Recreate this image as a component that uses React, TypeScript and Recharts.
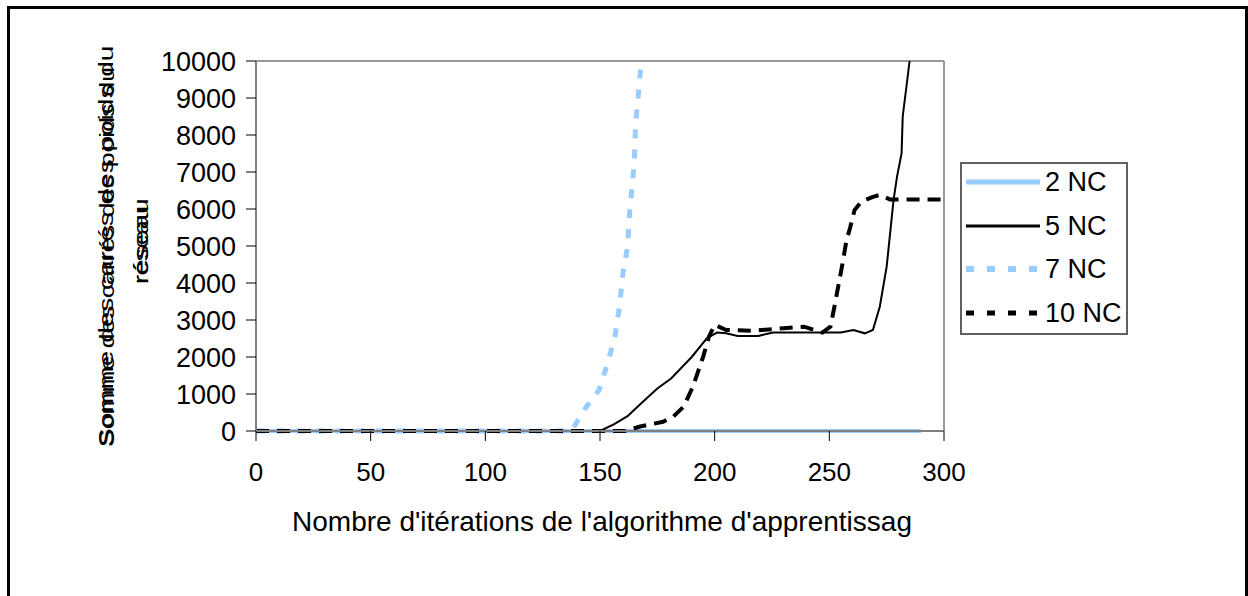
import React from 'react';
import { LineChart, Line, XAxis, YAxis, ReferenceLine } from 'recharts';

const FONT = '"Liberation Sans", Arial, sans-serif';

// axis ticks
const xTicks = [0, 50, 100, 150, 200, 250, 300];
const yTicks = [0, 1000, 2000, 3000, 4000, 5000, 6000, 7000, 8000, 9000, 10000];

// 2 NC
const nc2Iter = [0, 50, 100, 150, 200, 250, 290];
const nc2Vals = [0, 0, 0, 0, 0, 0, 0];

// 5 NC
const nc5Iter = [0, 50, 100, 150, 156, 162, 168, 175, 181, 190, 196.5, 201, 205, 210, 219, 225.5, 235, 245, 255, 260.5, 265.5, 269, 272, 275, 278, 279.5, 281.5, 282, 285];
const nc5Vals = [0, 0, 0, 0, 180, 400, 750, 1150, 1420, 2000, 2500, 2660, 2640, 2570, 2570, 2660, 2660, 2660, 2660, 2730, 2640, 2730, 3360, 4440, 6240, 6870, 7500, 8500, 10000];

// 7 NC
const nc7Iter = [0, 50, 100, 137.5, 144, 149.5, 153.5, 156.5, 158.5, 160, 162, 163, 164, 165, 165.5, 166.5, 168];
const nc7Vals = [0, 0, 0, 0, 650, 1100, 1870, 2550, 3360, 4260, 4980, 5970, 6600, 7320, 8300, 8950, 10000];

// 10 NC
const nc10Iter = [0, 50, 100, 150, 161, 167.5, 172, 177.5, 182, 186.5, 190.5, 195, 197.5, 200, 205, 217, 230, 239, 247, 250.5, 252.5, 255.5, 257.5, 259, 261, 264, 269, 272, 276.5, 300];
const nc10Vals = [0, 0, 0, 0, 0, 120, 180, 250, 390, 660, 1200, 2010, 2550, 2870, 2730, 2710, 2780, 2820, 2660, 2820, 3450, 4440, 5160, 5480, 5970, 6200, 6330, 6380, 6260, 6260];

const toPoints = (iter: number[], vals: number[]) => iter.map((it, i) => ({ it, v: vals[i] }));

const series = [
  { name: '2 NC', color: '#99CCFF', width: 4, dash: undefined, legendDash: undefined, data: toPoints(nc2Iter, nc2Vals) },
  { name: '5 NC', color: '#000000', width: 2, dash: undefined, legendDash: undefined, data: toPoints(nc5Iter, nc5Vals) },
  { name: '7 NC', color: '#99CCFF', width: 5, dash: '9 11', legendDash: '8 13', data: toPoints(nc7Iter, nc7Vals) },
  { name: '10 NC', color: '#000000', width: 4, dash: '13 8', legendDash: '8 13', data: toPoints(nc10Iter, nc10Vals) },
];

// the axis title is printed twice with slightly different spacing, squeezed across the line
const YTitle = () => (
  <g fontFamily={FONT} fontSize={28} fill="#000">
    <text transform="translate(113,447) rotate(-90) scale(1,0.75)">Somme des carrés des poids du</text>
    <text transform="translate(114,447) rotate(-90) scale(1,0.75)" textLength={380} lengthAdjust="spacingAndGlyphs">Somme des carrés des poids du</text>
    <text transform="translate(148,284) rotate(-90) scale(1,0.75)">réseau</text>
    <text transform="translate(148,284) rotate(-90) scale(1,0.75)" textLength={78} lengthAdjust="spacingAndGlyphs">réseau</text>
  </g>
);

const XTitle = () => (
  <text x={602} y={531} textAnchor="middle" fontFamily={FONT} fontSize={28} fill="#000">
    Nombre d'itérations de l'algorithme d'apprentissag
  </text>
);

const ChartLegend = () => (
  <div
    style={{
      position: 'absolute', left: 960, top: 162, width: 168, height: 173,
      boxSizing: 'border-box', border: '2px solid #606060', background: '#fff',
    }}
  >
    {series.map((s, i) => (
      <div
        key={s.name}
        style={{ position: 'absolute', left: 4, top: 18 + i * 43.5 - 16, height: 32, display: 'flex', alignItems: 'center' }}
      >
        <svg width={74} height={32}>
          <line x1={0} x2={74} y1={16} y2={16} stroke={s.color} strokeWidth={s.width + 1} strokeDasharray={s.legendDash} />
        </svg>
        <span style={{ marginLeft: 5, fontFamily: FONT, fontSize: 27, lineHeight: '32px', color: '#000' }}>{s.name}</span>
      </div>
    ))}
  </div>
);

export default function App() {
  return (
    <div style={{ position: 'absolute', left: 0, top: 0, width: 1248, height: 596, overflow: 'hidden', background: '#fff' }}>
      <div
        style={{
          position: 'absolute', left: 7, top: 6, width: 1241, height: 700,
          boxSizing: 'border-box', border: '3px solid #000',
        }}
      />
      <div style={{ position: 'absolute', left: 0, top: 0 }}>
        <LineChart width={1248} height={596} margin={{ top: 61, right: 304, left: 96, bottom: 105 }}>
          <XAxis
            dataKey="it"
            type="number"
            domain={[0, 300]}
            ticks={xTicks}
            interval={0}
            height={60}
            tickSize={10}
            tickMargin={22}
            axisLine={{ stroke: '#808080', strokeWidth: 2 }}
            tickLine={{ stroke: '#000' }}
            tick={{ fill: '#000', fontSize: 26, fontFamily: FONT }}
            label={<XTitle />}
          />
          <YAxis
            type="number"
            domain={[0, 10000]}
            ticks={yTicks}
            interval={0}
            width={160}
            tickSize={10}
            tickMargin={10}
            axisLine={{ stroke: '#808080', strokeWidth: 2 }}
            tickLine={{ stroke: '#000' }}
            tick={{ fill: '#000', fontSize: 27, fontFamily: FONT }}
            label={<YTitle />}
          />
          <ReferenceLine y={10000} stroke="#999" strokeWidth={2} />
          <ReferenceLine x={300} stroke="#999" strokeWidth={2} />
          {series.map((s) => (
            <Line
              key={s.name}
              data={s.data}
              dataKey="v"
              name={s.name}
              type="linear"
              stroke={s.color}
              strokeWidth={s.width}
              strokeDasharray={s.dash}
              dot={false}
              activeDot={false}
              isAnimationActive={false}
            />
          ))}
        </LineChart>
      </div>
      <ChartLegend />
    </div>
  );
}
